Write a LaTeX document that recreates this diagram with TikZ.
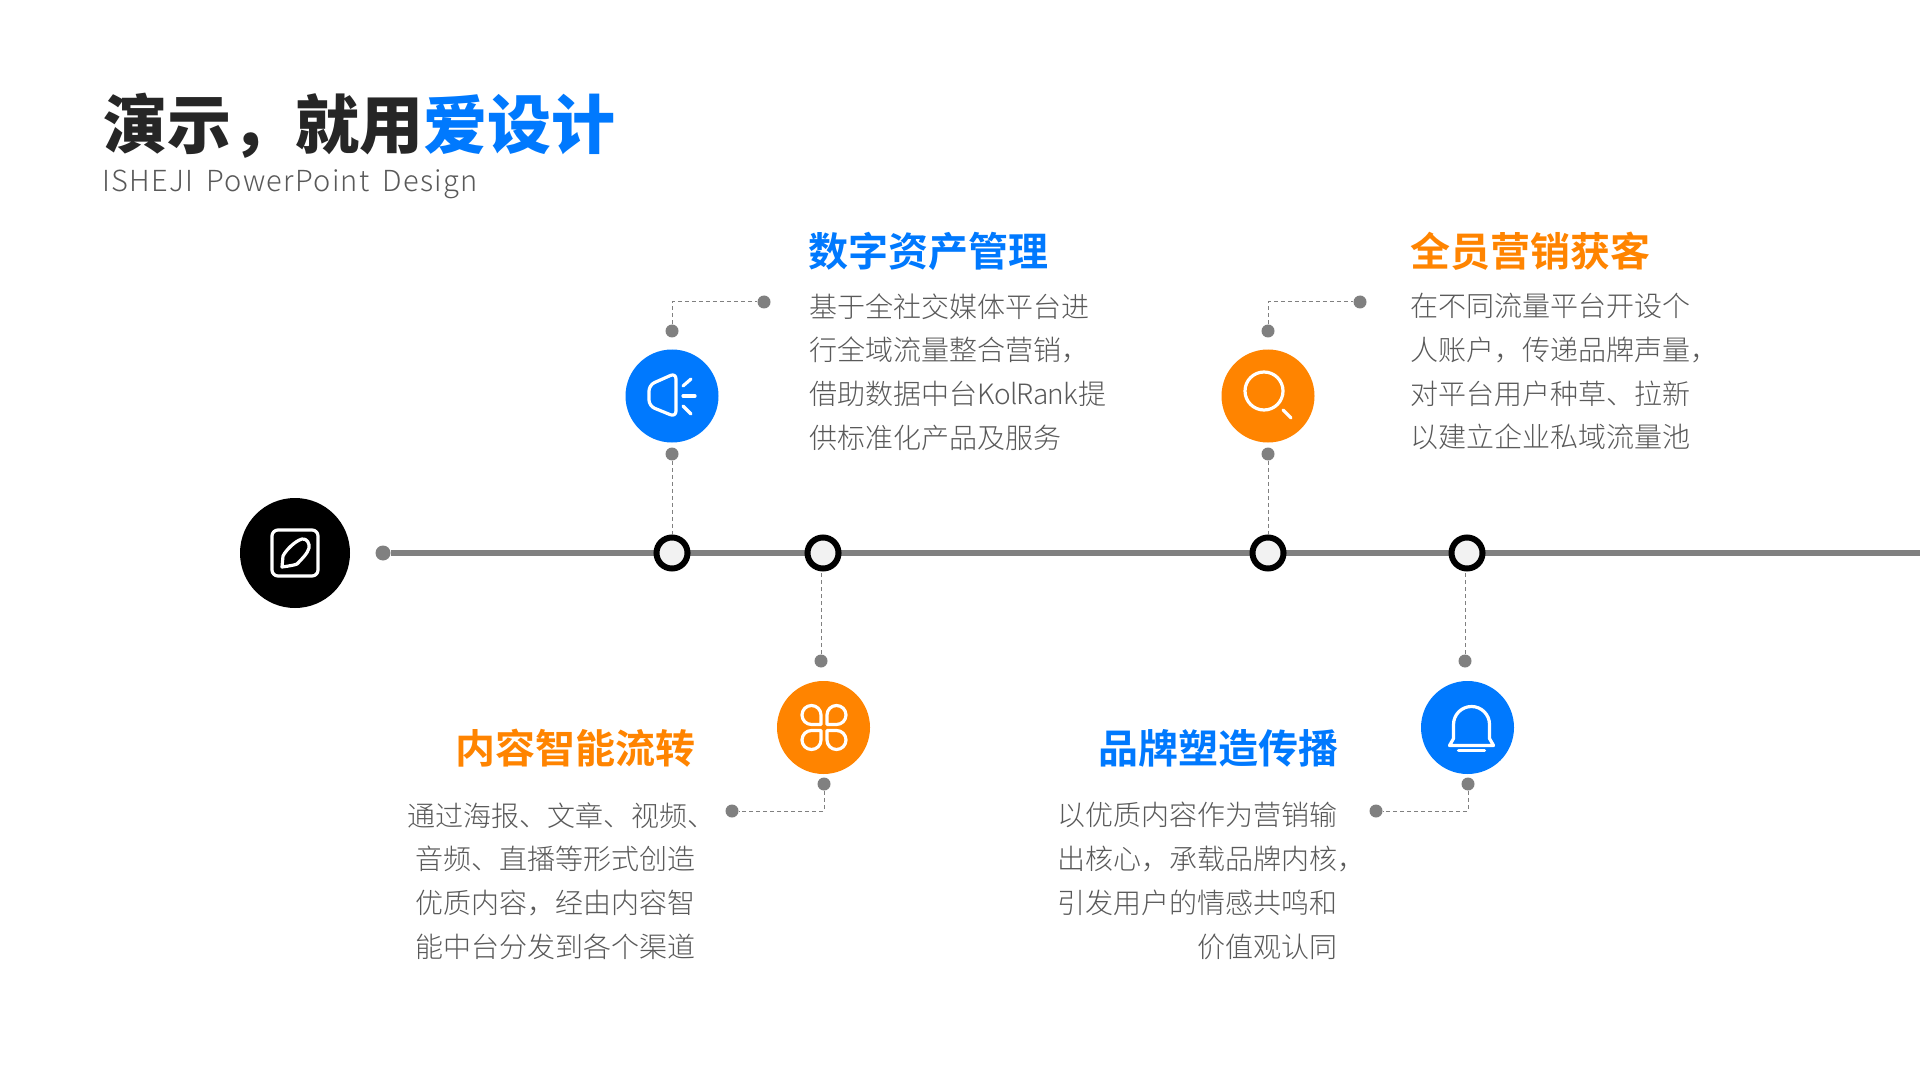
\documentclass[tikz,border=0pt]{standalone}
\usepackage{fontspec}
\setmainfont{Noto Sans CJK SC}
\newfontfamily\lightcjk{Noto Sans CJK SC Light}
\newfontfamily\latintight[LetterSpace=-2.5]{Noto Sans CJK SC Light}
\newfontfamily\boldcjk{Noto Sans CJK SC Bold}
\newfontfamily\blackcjk{Noto Sans CJK SC Black}
\newfontfamily\subfont[LetterSpace=4.4,WordSpace=1.7]{Noto Sans CJK SC Light}
\newcommand{\fwc}{^^^^ff0c}
\definecolor{myblue}{HTML}{0079FE}
\definecolor{myorange}{HTML}{FF8400}
\definecolor{mygray}{HTML}{808080}
\definecolor{mytext}{HTML}{595959}
\definecolor{mydark}{HTML}{262626}
\definecolor{myring}{HTML}{F2F2F2}
\tikzset{
  px/.style={x=0.5pt,y=-0.5pt},
  hub/.style={circle,minimum size=46.5pt,inner sep=0pt,fill=#1},
  ring/.style={circle,minimum size=15.5pt,inner sep=0pt,draw=black,line width=3pt,fill=myring},
  dot/.style={circle,minimum size=6.5pt,inner sep=0pt,fill=mygray},
  link/.style={draw=mygray,line width=0.5pt,dash pattern=on 2pt off 1.5pt},
  icon/.style={draw=white,line width=1.6pt,line cap=round,line join=round},
  head/.style={font=\boldcjk\fontsize{20pt}{24pt}\selectfont,inner sep=0pt},
  body/.style={font=\lightcjk\fontsize{14pt}{21.85pt}\selectfont,text=mytext,inner sep=0pt},
}
\begin{document}
\begin{tikzpicture}[px]
\useasboundingbox (0,0) rectangle (1920,1080);
\fill[white] (0,0) rectangle (1920,1080);

% title
\node (title) [anchor=base west,inner sep=0pt,font=\blackcjk\fontsize{32pt}{36pt}\selectfont,text=mydark] at (103,149) {演示\fwc 就用\textcolor{myblue}{爱设计}};
\node (sub) [anchor=base west,inner sep=0pt,font=\subfont\fontsize{14.5pt}{18pt}\selectfont,text=mytext] at (102,192) {ISHEJI PowerPoint Design};

% start hub and axis
\node (start) [hub=black,minimum size=55pt] at (295,553) {};
\node (axisstart) [dot,minimum size=7.5pt] at (383,553) {};
\coordinate (axisend) at (1920,553);
\draw[mygray,line width=3pt] (axisstart) -- (axisend);

% rings
\node (r1) [ring] at (672,553) {};
\node (r2) [ring] at (823,553) {};
\node (r3) [ring] at (1268,553) {};
\node (r4) [ring] at (1467,553) {};

% hubs
\node (h1) [hub=myblue] at (672,396) {};
\node (h2) [hub=myorange] at (823.5,727.5) {};
\node (h3) [hub=myorange] at (1268,396) {};
\node (h4) [hub=myblue] at (1467.5,727.5) {};

% dots
\node (a1) [dot] at (672,331) {};
\node (b1) [dot] at (672,454) {};
\node (c1) [dot] at (764,302) {};
\node (a3) [dot] at (1268,331) {};
\node (b3) [dot] at (1268,454) {};
\node (c3) [dot] at (1360,302) {};
\node (a2) [dot] at (821,661) {};
\node (b2) [dot] at (824,784) {};
\node (c2) [dot] at (732,811) {};
\node (a4) [dot] at (1465,661) {};
\node (b4) [dot] at (1468,784) {};
\node (c4) [dot] at (1376,811) {};

% connectors
\draw[link] (a1) |- (c1);
\draw[link] (b1) -- (r1);
\draw[link] (a3) |- (c3);
\draw[link] (b3) -- (r3);
\draw[link] (a2) -- (a2 |- r2.south);
\draw[link] (b2) |- (c2);
\draw[link] (a4) -- (a4 |- r4.south);
\draw[link] (b4) |- (c4);

% icons
\begin{scope}[shift={(295,553)},px]
  \draw[icon,rounded corners=3pt] (-23,-23) rectangle (23,23);
  \draw[icon] (-13,14) -- (-12,3) .. controls (-9,-3) and (0,-12) .. (7,-14) .. controls (12,-15) and (15,-9) .. (14,-5) .. controls (13,0) and (6,7) .. (2,11) .. controls (0,12) and (-6,13) .. cycle;
\end{scope}
\begin{scope}[shift={(672,396)},px]
  \draw[icon,rounded corners=3pt] (-23,-11) -- (4,-23) -- (4,21) -- (-23,10) -- cycle;
  \draw[icon] (11,-10) -- (19,-17);
  \draw[icon] (11,0) -- (23,0);
  \draw[icon] (11,10) -- (19,18);
\end{scope}
\begin{scope}[shift={(1268,396)},px]
  \draw[icon] (-4,-5) circle[radius=19];
  \draw[icon] (15,14) -- (23,22);
\end{scope}
\begin{scope}[shift={(824,727.5)},px]
  \foreach \a/\b in {1/1,-1/1,1/-1,-1/-1}{
    \draw[icon,xscale=\a,yscale=\b] (-3,-3) -- (-3,-12.5) arc[start angle=0,end angle=-270,radius=9.5] -- cycle;
  }
\end{scope}
\begin{scope}[shift={(1467.5,727.5)},px]
  \draw[icon] (-18,18) -- (26,18) -- (22,11) -- (22,-3) arc[start angle=0,end angle=-180,radius=18] -- (-14,11) -- cycle;
  \draw[icon] (-9,23) -- (17,23);
\end{scope}

% headings
\node (t1) [head,anchor=base west,text=myblue] at (808.5,267) {数字资产管理};
\node (t3) [head,anchor=base west,text=myorange] at (1410.5,267) {全员营销获客};
\node (t2) [head,anchor=base east,text=myorange] at (696,763) {内容智能流转};
\node (t4) [head,anchor=base east,text=myblue] at (1339,763) {品牌塑造传播};

% bodies
\node (p1) [body,anchor=north west,align=left] at (809,293) {基于全社交媒体平台进\\行全域流量整合营销\fwc\\借助数据中台{\latintight KolRank}提\\供标准化产品及服务};
\node (p3) [body,anchor=north west,align=left] at (1410,293) {在不同流量平台开设个\\人账户\fwc 传递品牌声量\fwc\\对平台用户种草、拉新\\以建立企业私域流量池};
\node (p2) [body,anchor=north east,align=right] at (695.5,802) {通过海报、文章、视频、\kern-10pt\\音频、直播等形式创造\\优质内容\fwc 经由内容智\\能中台分发到各个渠道};
\node (p4) [body,anchor=north east,align=right] at (1337.5,802) {以优质内容作为营销输\\出核心\fwc 承载品牌内核\fwc\kern-14pt\\引发用户的情感共鸣和\\价值观认同};
\end{tikzpicture}
\end{document}
